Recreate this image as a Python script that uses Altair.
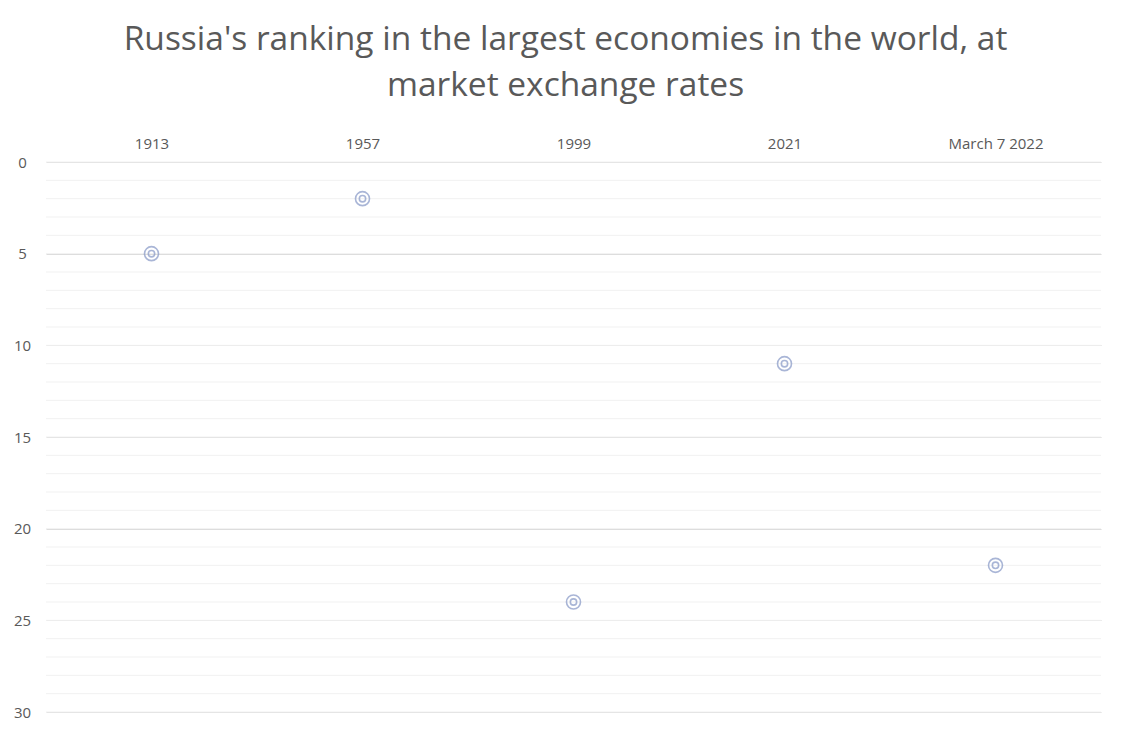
import pandas as pd
import altair as alt

# data
periods = ["1913", "1957", "1999", "2021", "March 7 2022"]
ranks = [5, 2, 24, 11, 22]
major_ticks = [0, 5, 10, 15, 20, 25, 30]
minor_ticks = list(range(0, 31))

df = pd.DataFrame({"period": periods, "rank": ranks})
grid = pd.DataFrame({"rank": minor_ticks})

W, H = 1055, 550
grey = "#595959"
font = "Open Sans"

y_scale = alt.Scale(domain=[0, 30], reverse=True, nice=False)
y_axis = alt.Axis(values=major_ticks, labelFontSize=15, labelColor=grey,
                  labelFont=font, ticks=False, domain=False, labelAlign="center",
                  gridColor="#d9d9d9", labelPadding=24)
x_enc = alt.X("period:N", sort=periods, title=None,
              scale=alt.Scale(paddingInner=0, paddingOuter=0),
              axis=alt.Axis(orient="top", labelAngle=0, labelFontSize=15,
                            labelColor=grey, labelFont=font, ticks=False,
                            domain=False, grid=False, labelPadding=11))

# light lines at every rank, darker grid every 5
minor = (alt.Chart(grid)
         .mark_rule(color="#f1f1f1", strokeWidth=1)
         .encode(y=alt.Y("rank:Q", scale=y_scale, axis=y_axis, title=None),
                 x=alt.value(0), x2=alt.value(W)))

base = alt.Chart(df).encode(
    x=x_enc,
    y=alt.Y("rank:Q", scale=y_scale, title=None, axis=y_axis),
)

outer = base.mark_point(shape="circle", filled=False, size=196,
                        color="#8597c6", strokeWidth=1.6)
inner = base.mark_point(shape="circle", filled=False, size=40,
                        color="#8597c6", strokeWidth=1.6)

chart = (alt.layer(minor, outer, inner)
         .properties(width=W, height=H, background="white",
                     autosize=alt.AutoSizeParams(type="none"),
                     padding={"left": 38, "top": 154, "right": 10, "bottom": 10},
                     title=alt.TitleParams(
                         ["Russia's ranking in the largest economies in the world, at",
                          "market exchange rates"],
                         anchor="middle", fontSize=33.5, font=font, fontWeight="normal",
                         color=grey, lineHeight=46, offset=33, dx=-8))
         .configure_view(stroke="transparent", strokeWidth=0))

chart.save("out.html", embed_options={"renderer": "svg", "actions": False})
